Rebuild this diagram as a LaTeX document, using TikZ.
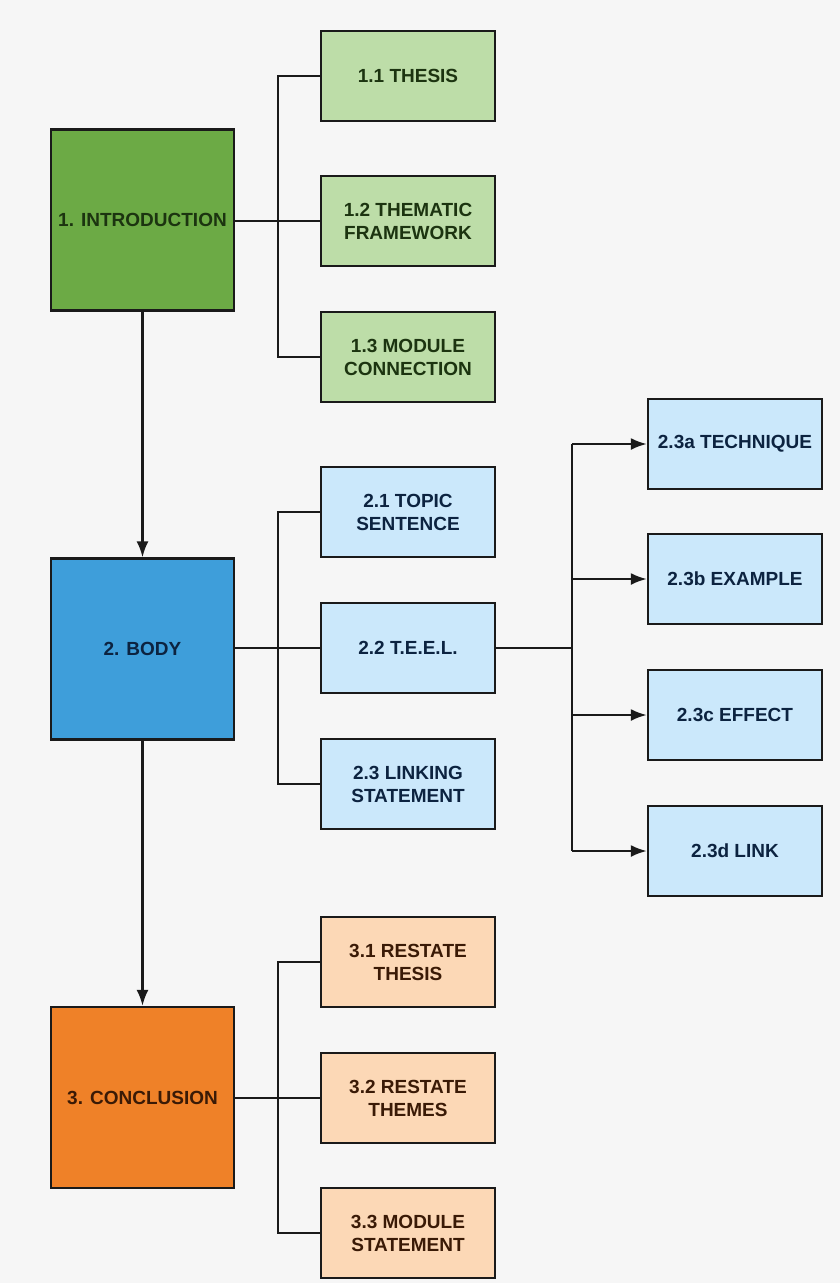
\documentclass[tikz,border=0pt]{standalone}
\usepackage{fontspec}
\setmainfont{Liberation Sans}
\usetikzlibrary{arrows.meta}
\definecolor{bg}{HTML}{F6F6F6}
\definecolor{introfill}{HTML}{6CAA45}
\definecolor{subgreen}{HTML}{BDDDA8}
\definecolor{bodyfill}{HTML}{3E9EDA}
\definecolor{subblue}{HTML}{CBE8FB}
\definecolor{conclfill}{HTML}{EF8128}
\definecolor{suborange}{HTML}{FCD8B6}
\definecolor{txtgreen}{HTML}{1C3410}
\definecolor{txtblue}{HTML}{0C2340}
\definecolor{txtbrown}{HTML}{3A1A06}
\definecolor{linec}{HTML}{1A1A1A}
\tikzset{
  x=1pt,y=1pt,
  box/.style={draw=linec,line width=2.4pt,align=center,inner sep=2pt,
    font=\bfseries\fontsize{19}{23}\selectfont},
  mainbox/.style={box,minimum width=183pt,minimum height=181pt},
  subbox/.style={box,minimum width=174pt,minimum height=90pt},
  conn/.style={draw=linec,line width=2.2pt},
  arr/.style={conn,-{Latex[length=16pt,width=12pt]}}
}
\begin{document}
\begin{tikzpicture}
\fill[bg] (0,0) rectangle (840,-1283);
\useasboundingbox (0,0) rectangle (840,-1283);

% main boxes
\node[mainbox,fill=introfill,text=txtgreen] (intro) at (142.5,-220) {1. INTRODUCTION};
\node[mainbox,fill=bodyfill,text=txtblue] (body) at (142.5,-649) {2. BODY};
\node[mainbox,fill=conclfill,text=txtbrown] (concl) at (142.5,-1097.5) {3. CONCLUSION};

% intro subs
\node[subbox,fill=subgreen,text=txtgreen] (t11) at (408,-76) {1.1 THESIS};
\node[subbox,fill=subgreen,text=txtgreen] (t12) at (408,-221) {1.2 THEMATIC\\FRAMEWORK};
\node[subbox,fill=subgreen,text=txtgreen] (t13) at (408,-357) {1.3 MODULE\\CONNECTION};

% body subs
\node[subbox,fill=subblue,text=txtblue] (t21) at (408,-512) {2.1 TOPIC\\SENTENCE};
\node[subbox,fill=subblue,text=txtblue] (t22) at (408,-648) {2.2 T.E.E.L.};
\node[subbox,fill=subblue,text=txtblue] (t23) at (408,-784) {2.3 LINKING\\STATEMENT};

% TEEL subs
\node[subbox,fill=subblue,text=txtblue] (ta) at (735,-444) {2.3a TECHNIQUE};
\node[subbox,fill=subblue,text=txtblue] (tb) at (735,-579) {2.3b EXAMPLE};
\node[subbox,fill=subblue,text=txtblue] (tc) at (735,-715) {2.3c EFFECT};
\node[subbox,fill=subblue,text=txtblue] (td) at (735,-851) {2.3d LINK};

% conclusion subs
\node[subbox,fill=suborange,text=txtbrown] (t31) at (408,-962) {3.1 RESTATE\\THESIS};
\node[subbox,fill=suborange,text=txtbrown] (t32) at (408,-1098) {3.2 RESTATE\\THEMES};
\node[subbox,fill=suborange,text=txtbrown] (t33) at (408,-1233) {3.3 MODULE\\STATEMENT};

% bus coordinates
\coordinate (b1) at (278,0);
\coordinate (b2) at (572,0);

% intro connectors
\draw[conn] (intro.east |- t12.west) -- (t12.west);
\draw[conn] (t11.west) -- (t11.west -| b1) |- (t13.west);

% body connectors
\draw[conn] (body.east |- t22.west) -- (t22.west);
\draw[conn] (t21.west) -- (t21.west -| b1) |- (t23.west);

% conclusion connectors
\draw[conn] (concl.east |- t32.west) -- (t32.west);
\draw[conn] (t31.west) -- (t31.west -| b1) |- (t33.west);

% TEEL connectors
\draw[conn] (t22.east) -- (t22.east -| b2);
\draw[conn] (ta.west -| b2) -- (td.west -| b2);
\draw[arr] (ta.west -| b2) -- (ta.west);
\draw[arr] (tb.west -| b2) -- (tb.west);
\draw[arr] (tc.west -| b2) -- (tc.west);
\draw[arr] (td.west -| b2) -- (td.west);

% vertical flow
\draw[arr] (intro.south) -- (body.north);
\draw[arr] (body.south) -- (concl.north);
\end{tikzpicture}
\end{document}
